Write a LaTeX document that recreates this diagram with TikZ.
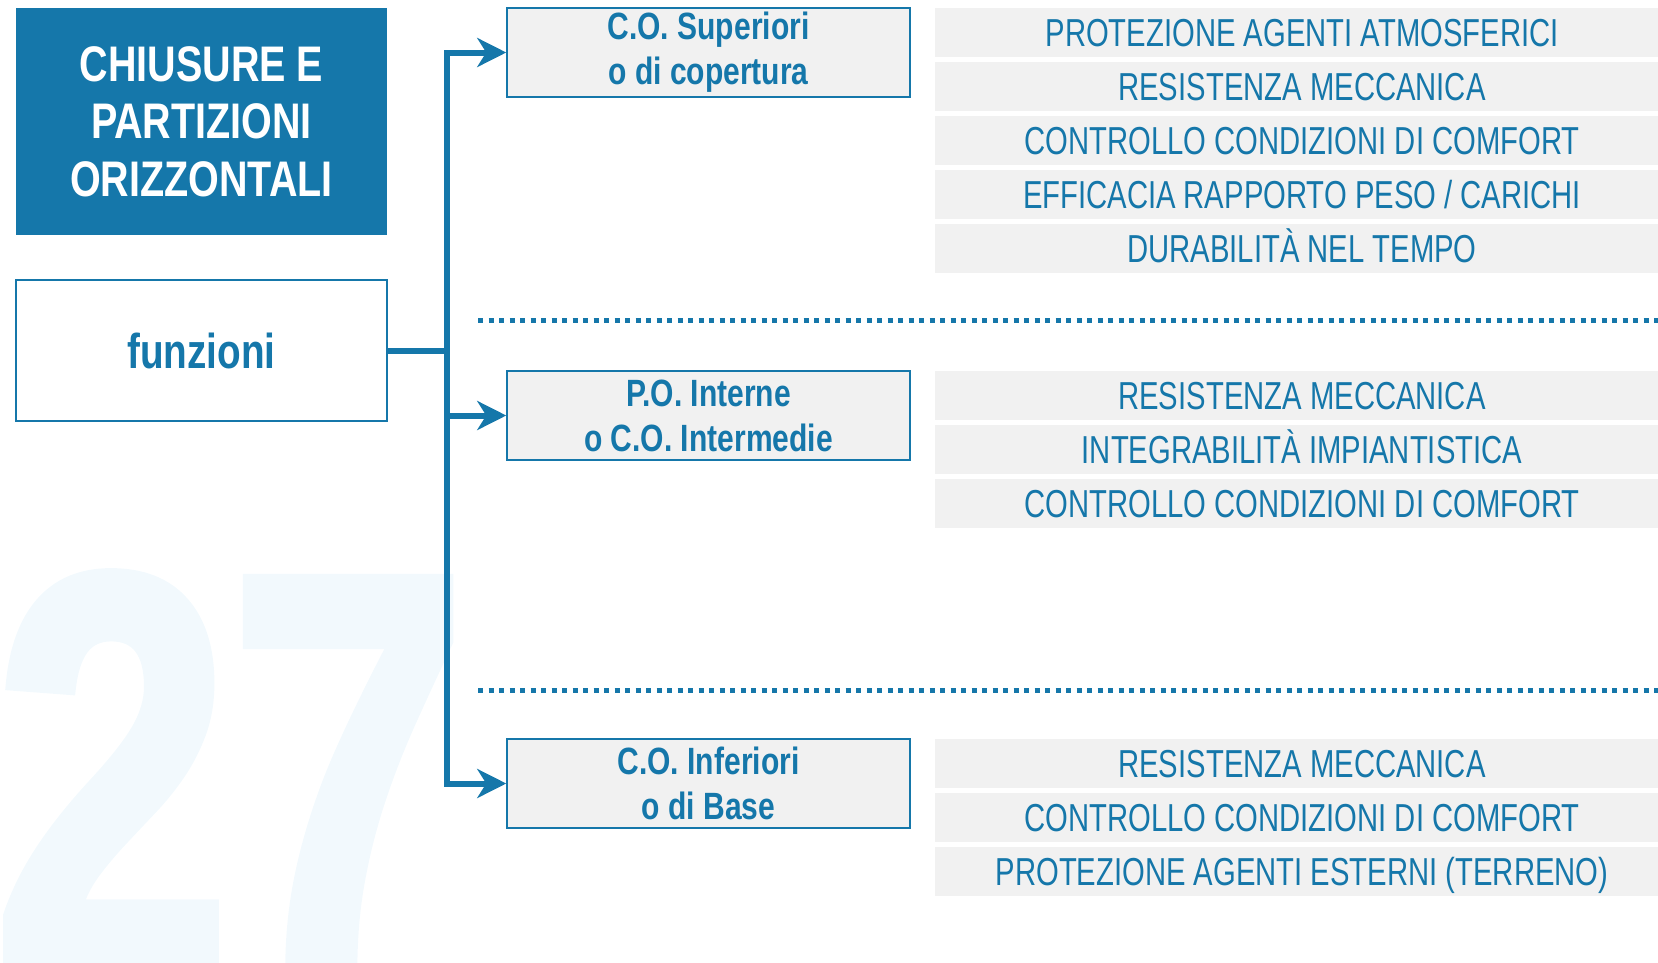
\documentclass[tikz,border=0pt]{standalone}
\usepackage{fontspec}
\setmainfont{Liberation Sans}
\newfontfamily\condB[FakeStretch=0.79]{Liberation Sans}
\newfontfamily\condR[FakeStretch=0.75]{Liberation Sans}
\newfontfamily\cifra[FakeStretch=0.75,FakeBold=2]{Liberation Sans}
\usetikzlibrary{arrows.meta,positioning}

\definecolor{blu}{RGB}{21,119,170}
\definecolor{grigio}{RGB}{241,241,241}
\definecolor{filigrana}{RGB}{242,249,253}

\tikzset{
  titolo/.style={fill=blu, text=white, inner sep=0pt, minimum width=371pt, minimum height=227pt,
    align=center, font=\condB\bfseries\fontsize{50}{57.5}\selectfont},
  funz/.style={draw=blu, line width=1.5pt, fill=white, inner sep=0pt, minimum width=371pt,
    minimum height=141pt, text=blu, font=\condB\bfseries\fontsize{49}{49}\selectfont},
  tipo/.style={draw=blu, line width=1.5pt, fill=grigio, inner sep=0pt, minimum width=403pt,
    minimum height=89pt, align=center, text=blu, font=\condB\bfseries\fontsize{38}{45}\selectfont},
  voce/.style={fill=grigio, inner sep=0pt, minimum width=734pt, minimum height=49pt,
    text height=28pt, text depth=0pt, text=blu, font=\condR\fontsize{39}{39}\selectfont},
  ramo/.style={draw=blu, line width=6pt, -{Stealth[length=29pt,width=29pt,inset=9pt]}},
  sep/.style={blu, line width=5pt, dash pattern=on 5pt off 5.5pt}
}

\begin{document}
\begin{tikzpicture}[x=1pt, y=-1pt]
\useasboundingbox (0,0) rectangle (1658,962);

\node[anchor=base west, inner sep=0pt, text=filigrana, font=\cifra\bfseries\fontsize{566}{566}\selectfont]
  (num) at (-6,969) {27};

\node[titolo] (tit) at (201.5,121.5) {CHIUSURE E\\PARTIZIONI\\ORIZZONTALI};
\node[funz] (fz) at (201.5,350.5) {funzioni};

\node[tipo] (sup) at (708.5,52.5) {C.O. Superiori\\o di copertura};
\node[tipo] (int) at (708.5,415.5) {P.O. Interne\\o C.O. Intermedie};
\node[tipo] (inf) at (708.5,783.5) {C.O. Inferiori\\o di Base};

\draw[ramo] (fz.east) -- ++(59,0) |- (sup.west);
\draw[ramo] (fz.east) -- ++(59,0) |- (int.west);
\draw[ramo] (fz.east) -- ++(59,0) |- (inf.west);

\foreach \t [count=\i] in {{PROTEZIONE AGENTI ATMOSFERICI}, {RESISTENZA MECCANICA},
    {CONTROLLO CONDIZIONI DI COMFORT}, {EFFICACIA RAPPORTO PESO / CARICHI}, {DURABILITÀ NEL TEMPO}}
  \node[voce] (s\i) at (1302,32.5+54*\i-54) {\t};
\foreach \t [count=\i] in {{RESISTENZA MECCANICA}, {INTEGRABILITÀ IMPIANTISTICA},
    {CONTROLLO CONDIZIONI DI COMFORT}}
  \node[voce] (m\i) at (1302,395.5+54*\i-54) {\t};
\foreach \t [count=\i] in {{RESISTENZA MECCANICA}, {CONTROLLO CONDIZIONI DI COMFORT},
    {PROTEZIONE AGENTI ESTERNI (TERRENO)}}
  \node[voce] (b\i) at (1302,763.5+54*\i-54) {\t};

\draw[sep] (478,320) -- (1670,320);
\draw[sep] (478,690) -- (1670,690);
\end{tikzpicture}
\end{document}
